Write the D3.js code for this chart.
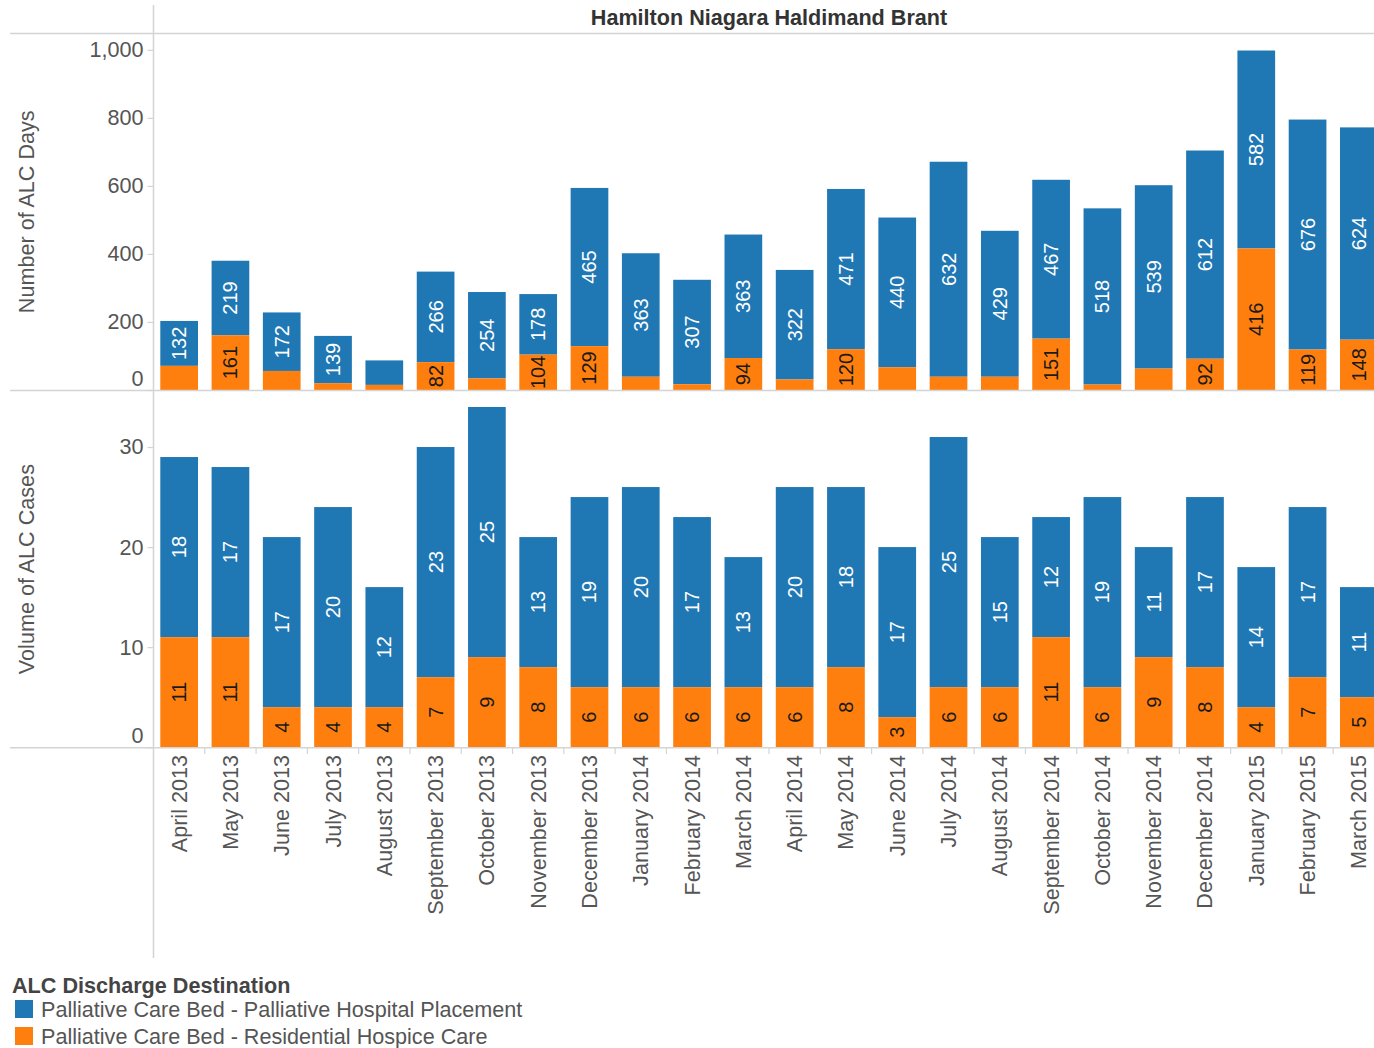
<!DOCTYPE html>
<html>
<head>
<meta charset="utf-8">
<script src="https://cdn.jsdelivr.net/npm/d3@7"></script>
<style>
  html, body { margin: 0; padding: 0; background: #fff; }
  svg { display: block; font-family: "Liberation Sans", Arial, sans-serif; }
</style>
</head>
<body>
<svg id="chart" width="1374" height="1048"></svg>
<script>
const months = ["April 2013","May 2013","June 2013","July 2013","August 2013","September 2013","October 2013","November 2013","December 2013","January 2014","February 2014","March 2014","April 2014","May 2014","June 2014","July 2014","August 2014","September 2014","October 2014","November 2014","December 2014","January 2015","February 2015","March 2015"];

// Number of ALC Days
const daysHospital = [132,219,172,139,72,266,254,178,465,363,307,363,322,471,440,632,429,467,518,539,612,582,676,624];
const daysHospice  = [71,161,56,20,15,82,34,104,129,39,17,94,31,120,67,39,39,151,16,63,92,416,119,148];

// Volume of ALC Cases
const casesHospital = [18,17,17,20,12,23,25,13,19,20,17,13,20,18,17,25,15,12,19,11,17,14,17,11];
const casesHospice  = [11,11,4,4,4,7,9,8,6,6,6,6,6,8,3,6,6,11,6,9,8,4,7,5];

const daysTicks = [0,200,400,600,800,1000];
const casesTicks = [0,10,20,30];

const seriesNames = ["Palliative Care Bed - Palliative Hospital Placement","Palliative Care Bed - Residential Hospice Care"];
const seriesColors = ["#1f77b4","#ff7f0e"];
const labelColors = ["#ffffff","#1a1a1a"];

const svg = d3.select("#chart");
const axisColor = "#d4d4d4";
const textColor = "#555555";
const fs = 21.6;

const x = d3.scaleBand().domain(months).range([153.5, 1384.5]).paddingInner(0.265).paddingOuter(0.1325);

// frame lines
svg.append("line").attr("x1",153.5).attr("x2",153.5).attr("y1",5).attr("y2",958).attr("stroke",axisColor).attr("stroke-width",1.5);
svg.append("line").attr("x1",10).attr("x2",1374).attr("y1",33.5).attr("y2",33.5).attr("stroke",axisColor).attr("stroke-width",1.5);

// title
svg.append("text").attr("x", (153.5+1384.5)/2).attr("y", 25).attr("text-anchor","middle")
  .attr("font-size",fs).attr("font-weight","bold").attr("fill","#333").text("Hamilton Niagara Haldimand Brant");

function panel(hosp, hosc, domainMax, top, bottom, ticks, title, fmt) {
  const y = d3.scaleLinear().domain([0, domainMax]).range([bottom, top]);
  const stackData = months.map((m,i) => ({month:m, hospice:hosc[i], hospital:hosp[i]}));
  const stack = d3.stack().keys(["hospital","hospice"]).order(d3.stackOrderReverse)(stackData);
  stack.forEach(layer => {
    const idx = layer.key === "hospital" ? 0 : 1;
    const g = svg.append("g");
    g.selectAll("rect").data(layer).join("rect")
      .attr("x", d => x(d.data.month))
      .attr("width", x.bandwidth())
      .attr("y", d => y(d[1]))
      .attr("height", d => y(d[0]) - y(d[1]))
      .attr("fill", seriesColors[idx]);
    g.selectAll("text").data(layer.filter(d => (y(d[0]) - y(d[1])) >= 26)).join("text")
      .attr("transform", d => `translate(${x(d.data.month)+x.bandwidth()/2},${(y(d[0])+y(d[1]))/2}) rotate(-90)`)
      .attr("text-anchor","middle").attr("dominant-baseline","central")
      .attr("font-size",20).attr("fill",labelColors[idx])
      .text(d => d[1]-d[0]);
  });
  svg.append("line").attr("x1",10).attr("x2",1374).attr("y1",bottom+0.5).attr("y2",bottom+0.5).attr("stroke",axisColor).attr("stroke-width",1.5);
  const ax = d3.axisLeft(y).tickValues(ticks).tickSize(6).tickPadding(4).tickFormat(fmt);
  const ga = svg.append("g").attr("transform","translate(153.5,0)").call(ax);
  ga.select(".domain").remove();
  ga.selectAll(".tick line").attr("stroke",axisColor).attr("stroke-width",1.2);
  ga.selectAll(".tick text").attr("font-size",fs).attr("fill",textColor)
    .attr("font-family","'Liberation Sans', Arial, sans-serif")
    .attr("dy", d => d === 0 ? "-0.23em" : "0.32em");
  svg.append("text").attr("transform",`translate(34,${(top+bottom)/2}) rotate(-90)`)
    .attr("text-anchor","middle").attr("font-size",fs).attr("fill",textColor).text(title);
  return y;
}

panel(daysHospital, daysHospice, 1048, 33.5, 390, daysTicks, "Number of ALC Days", d3.format(","));
panel(casesHospital, casesHospice, 35.6, 391, 747.2, casesTicks, "Volume of ALC Cases", d3.format("d"));

// x axis
const xa = svg.append("g").attr("transform","translate(0,748)");
const bounds = months.map(m => x(m) - x.step()*x.paddingInner()/2);
xa.selectAll("line").data(bounds.slice(1)).join("line")
  .attr("x1",d=>d).attr("x2",d=>d).attr("y1",0).attr("y2",6).attr("stroke",axisColor).attr("stroke-width",1.2);
xa.selectAll("text").data(months).join("text")
  .attr("transform", d => `translate(${x(d)+x.bandwidth()/2},7) rotate(-90)`)
  .attr("text-anchor","end").attr("dominant-baseline","central")
  .attr("font-size",fs).attr("fill",textColor).text(d => d);

// legend
const lg = svg.append("g");
lg.append("text").attr("x",12).attr("y",993).attr("font-size",fs).attr("font-weight","bold").attr("fill","#444").text("ALC Discharge Destination");
seriesNames.forEach((n,i) => {
  lg.append("rect").attr("x",15).attr("y",1000+i*27).attr("width",18).attr("height",18).attr("fill",seriesColors[i]);
  lg.append("text").attr("x",41).attr("y",1017+i*27).attr("font-size",fs).attr("fill",textColor).text(n);
});
</script>
</body>
</html>
